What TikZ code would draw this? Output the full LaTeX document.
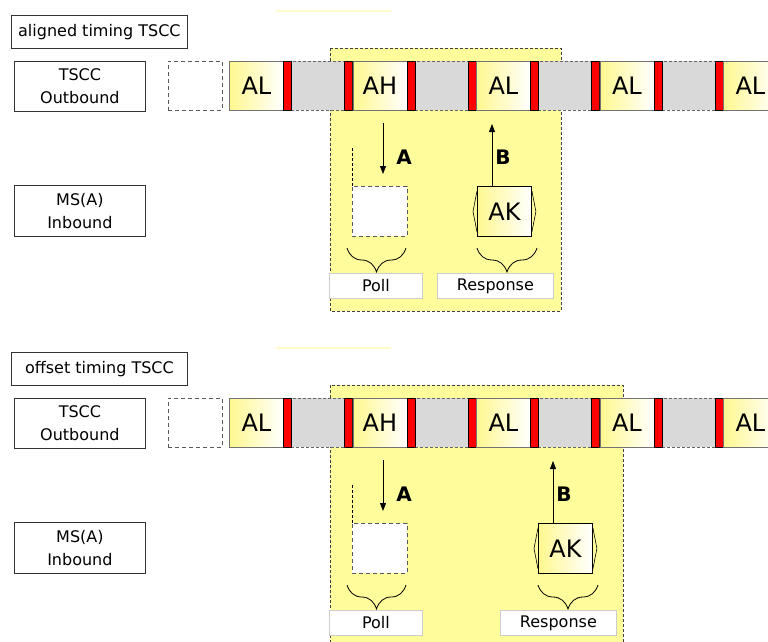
\documentclass[tikz,border=0pt]{standalone}
\usepackage{fontspec}
\setmainfont{DejaVu Sans}
\usetikzlibrary{decorations.pathreplacing,arrows.meta,calc}
\definecolor{hl}{HTML}{FFFC9C}
\definecolor{cy}{HTML}{FFF88F}
\definecolor{gc}{HTML}{D9D9D9}
\definecolor{faint}{HTML}{FFFCCC}
\tikzset{
  box/.style={draw=black!80, fill=white, line width=0.8pt, inner sep=0pt, anchor=north west, align=center, font=\fontsize{16}{23}\selectfont},
  datacell/.style={draw=black!55, left color=cy, right color=white, line width=0.9pt, minimum width=54pt, minimum height=49pt, inner sep=0pt, anchor=north west, font=\fontsize{24}{24}\selectfont},
  redbar/.style={draw=black, fill=red, line width=0.7pt, minimum width=8pt, minimum height=49pt, inner sep=0pt, anchor=north west},
  graycell/.style={draw=black!60, dash pattern=on 3pt off 2pt, fill=gc, line width=0.8pt, minimum width=53pt, minimum height=49pt, inner sep=0pt, anchor=north west},
  emptycell/.style={draw=black!65, dash pattern=on 4pt off 3pt, fill=white, line width=0.9pt, inner sep=0pt, anchor=north west},
  region/.style={draw=black!75, dash pattern=on 3pt off 2pt, fill=hl, line width=0.7pt},
  sig/.style={line width=0.8pt, -{Triangle[length=8pt,width=6pt]}},
  siglbl/.style={font=\fontsize{20}{20}\selectfont\bfseries, inner sep=0pt},
  akbox/.style={draw=black, left color=cy, right color=white, line width=0.9pt, minimum width=54pt, minimum height=50pt, inner sep=0pt, anchor=north west, font=\fontsize{24}{24}\selectfont},
  tag/.style={draw=black!20, fill=white, line width=0.8pt, minimum height=25pt, inner sep=0pt, anchor=north west, font=\fontsize{16}{16}\selectfont},
  brc/.style={decorate, decoration={brace, amplitude=24pt, aspect=0.5}, line width=0.8pt},
}
\newcommand\tsccpart[6]{%
  \coordinate (#1rnw) at (330,48);
  \coordinate (#1rse) at (#3,#4);
  \draw[region] (#1rnw) rectangle (#1rse);
  \coordinate (#1fa) at (276,11);
  \coordinate (#1fb) at (391,11);
  \draw[faint, line width=1.2pt] (#1fa) -- (#1fb);
  \node[box, minimum width=176pt, minimum height=33pt] (#1title) at (11,15) {#2};
  \node[box, minimum width=131pt, minimum height=50pt] (#1out) at (14,61) {TSCC\\Outbound};
  \node[box, minimum width=131pt, minimum height=51pt] (#1in) at (14,185) {MS(A)\\Inbound};
  \node[emptycell, minimum width=54pt, minimum height=49pt] (#1e) at (168,61) {};
  \foreach \k/\lab in {0/AL,1/AH,2/AL,3/AL,4/AL}{
    \pgfmathsetmacro\bx{229+123.5*\k}
    \node[graycell] (#1g\k) at (\bx+62,61) {};
    \node[datacell] (#1d\k) at (\bx,61) {\lab};
    \node[redbar] (#1ra\k) at (\bx+54,61) {};
    \node[redbar] (#1rb\k) at (\bx+115,61) {};
  }
  % poll
  \coordinate (#1pt) at (352,148);
  \node[emptycell, minimum width=55pt, minimum height=50pt] (#1poll) at (352,186) {};
  \draw[dash pattern=on 3pt off 2pt, line width=0.7pt] (#1pt) -- (#1poll.north west);
  \coordinate (#1a0) at (383,123);
  \coordinate (#1a1) at (383,174);
  \draw[sig] (#1a0) -- (#1a1);
  \node[siglbl] (#1A) at (404,157) {A};
  \coordinate (#1pb0) at (406,248);
  \coordinate (#1pb1) at (347,248);
  \draw[brc] (#1pb0) -- (#1pb1);
  \node[tag, minimum width=93pt] (#1polltag) at (329,273) {Poll};
  % response
  \node[akbox] (#1ak) at (#5,186) {AK};
  \draw[line width=0.6pt] ($(#1ak.north west)+(0,5)$) -- ($(#1ak.west)+(-4,0)$) -- ($(#1ak.south west)+(0,-5)$);
  \draw[line width=0.6pt] ($(#1ak.north east)+(0,5)$) -- ($(#1ak.east)+(4,0)$) -- ($(#1ak.south east)+(0,-5)$);
  \coordinate (#1b1) at ($(#1ak.north west)+(15,-62)$);
  \draw[sig] ($(#1ak.north west)+(15,0)$) -- (#1b1);
  \node[siglbl] (#1B) at ($(#1ak.north west)+(26,-29)$) {B};
  \coordinate (#1rbr) at (#5+60,248);
  \coordinate (#1rbl) at (#5,248);
  \draw[brc] (#1rbr) -- (#1rbl);
  \node[tag, minimum width=116pt] (#1resptag) at (#6,273) {Response};
}
\begin{document}
\begin{tikzpicture}[x=1pt,y=-1pt]
  \useasboundingbox (0,0) rectangle (768,642);
  \clip (0,0) rectangle (768,642);
  \tsccpart{t}{aligned timing TSCC}{561}{311}{477}{437}
  \begin{scope}[yshift=-337pt]
    \tsccpart{b}{offset timing TSCC}{623}{330}{538}{500}
  \end{scope}
\end{tikzpicture}
\end{document}
